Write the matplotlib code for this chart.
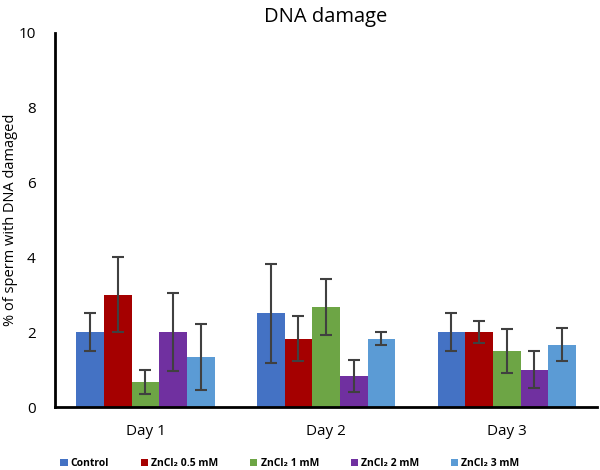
import numpy as np
import matplotlib
matplotlib.use("Agg")
import matplotlib.pyplot as plt

days = ["Day 1", "Day 2", "Day 3"]
groups = ["Control", "ZnCl₂ 0.5 mM", "ZnCl₂ 1 mM", "ZnCl₂ 2 mM", "ZnCl₂ 3 mM"]
colors = ["#4472C4", "#A50000", "#6DA545", "#7030A0", "#5B9BD5"]

control = [2.0, 2.5, 2.0]
zn05 = [3.0, 1.83, 2.0]
zn1 = [0.67, 2.67, 1.5]
zn2 = [2.0, 0.83, 1.0]
zn3 = [1.33, 1.83, 1.67]

control_err = [0.5, 1.32, 0.5]
zn05_err = [1.0, 0.6, 0.3]
zn1_err = [0.32, 0.75, 0.58]
zn2_err = [1.05, 0.43, 0.5]
zn3_err = [0.88, 0.17, 0.43]

values = [control, zn05, zn1, zn2, zn3]
errors = [control_err, zn05_err, zn1_err, zn2_err, zn3_err]

plt.rcParams['font.family'] = ['Open Sans', 'DejaVu Sans']

fig = plt.figure(figsize=(6, 4.7), dpi=100)
ax = fig.add_axes([0.092, 0.134, 0.903, 0.796])

x = np.arange(len(days))
w = 0.153
for i in range(5):
    ax.bar(x + (i - 2) * w, values[i], w, color=colors[i], label=groups[i],
           yerr=errors[i], error_kw=dict(ecolor="#404040", elinewidth=1.5, capsize=4, capthick=1.5))

ax.set_xlim(-0.5, 2.5)
ax.set_ylim(0, 10)
ax.set_yticks([0, 2, 4, 6, 8, 10])
ax.set_xticks(x)
ax.set_xticklabels(days)
ax.tick_params(length=0, labelsize=11, colors="black")
ax.tick_params(axis="x", pad=12)
ax.tick_params(axis="y", pad=14)
for s in ["top", "right"]:
    ax.spines[s].set_visible(False)
for s in ["left", "bottom"]:
    ax.spines[s].set_linewidth(2)
ax.set_ylabel("% of sperm with DNA damaged", fontsize=10.5)
ax.yaxis.set_label_coords(-0.068, 0.5)
ax.set_title("DNA damage", fontsize=14.5, pad=8)

fig.legend(loc="lower center", bbox_to_anchor=(0.483, -0.018), ncol=5, frameon=False,
           prop=dict(size=7.5, weight="bold"), handlelength=0.7, handleheight=0.7,
           handletextpad=0.3, columnspacing=3.05)

fig.savefig("out.png", dpi=100)
